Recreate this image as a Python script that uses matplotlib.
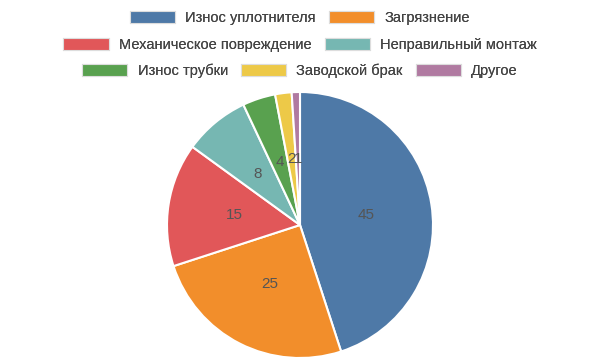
import matplotlib
matplotlib.use("Agg")
import matplotlib.pyplot as plt
from matplotlib.patches import Patch

plt.rcParams['font.family'] = ['Liberation Sans', 'DejaVu Sans']

CATEGORIES = ['Износ уплотнителя', 'Загрязнение', 'Механическое повреждение',
              'Неправильный монтаж', 'Износ трубки', 'Заводской брак', 'Другое']
VALUES = [45, 25, 15, 8, 4, 2, 1]
COLORS = ['#4e79a7', '#f28e2b', '#e15759', '#76b7b2', '#59a14f', '#edc948', '#b07aa1']
LEGEND_ROWS = [[0, 1], [2, 3], [4, 5, 6]]


def make_label(values):
    # autopct gives percents; show the raw value instead
    it = iter(values)
    return lambda p: str(next(it))


fig = plt.figure(figsize=(6, 3.6), dpi=100)
ax = fig.add_axes([167 / 600, 2 / 360, 266 / 600, 266 / 360])
wedges, texts, autotexts = ax.pie(
    VALUES, colors=COLORS, startangle=90, counterclock=False,
    autopct=make_label(VALUES), pctdistance=0.5, radius=1,
    wedgeprops=dict(edgecolor='white', linewidth=1.5),
    textprops=dict(color='#555555', fontsize=11))
ax.set_xlim(-1.0, 1.0)
ax.set_ylim(-1.0, 1.0)

# legend is laid out as flowing rows, one legend per row
row_y = [1 - 18 / 360, 1 - 45 / 360, 1 - 71 / 360]
for row, y in zip(LEGEND_ROWS, row_y):
    handles = [Patch(facecolor=COLORS[i], edgecolor='#dddddd', linewidth=0.8) for i in row]
    leg = fig.legend(handles, [CATEGORIES[i] for i in row], loc='center',
                     bbox_to_anchor=(0.5, y), ncol=len(row), frameon=False,
                     fontsize=10.5, handlelength=3.1, handleheight=0.9,
                     handletextpad=0.7, columnspacing=0.9, borderpad=0,
                     labelcolor='#444444')
    fig.add_artist(leg)

fig.savefig('out.png', dpi=100)
